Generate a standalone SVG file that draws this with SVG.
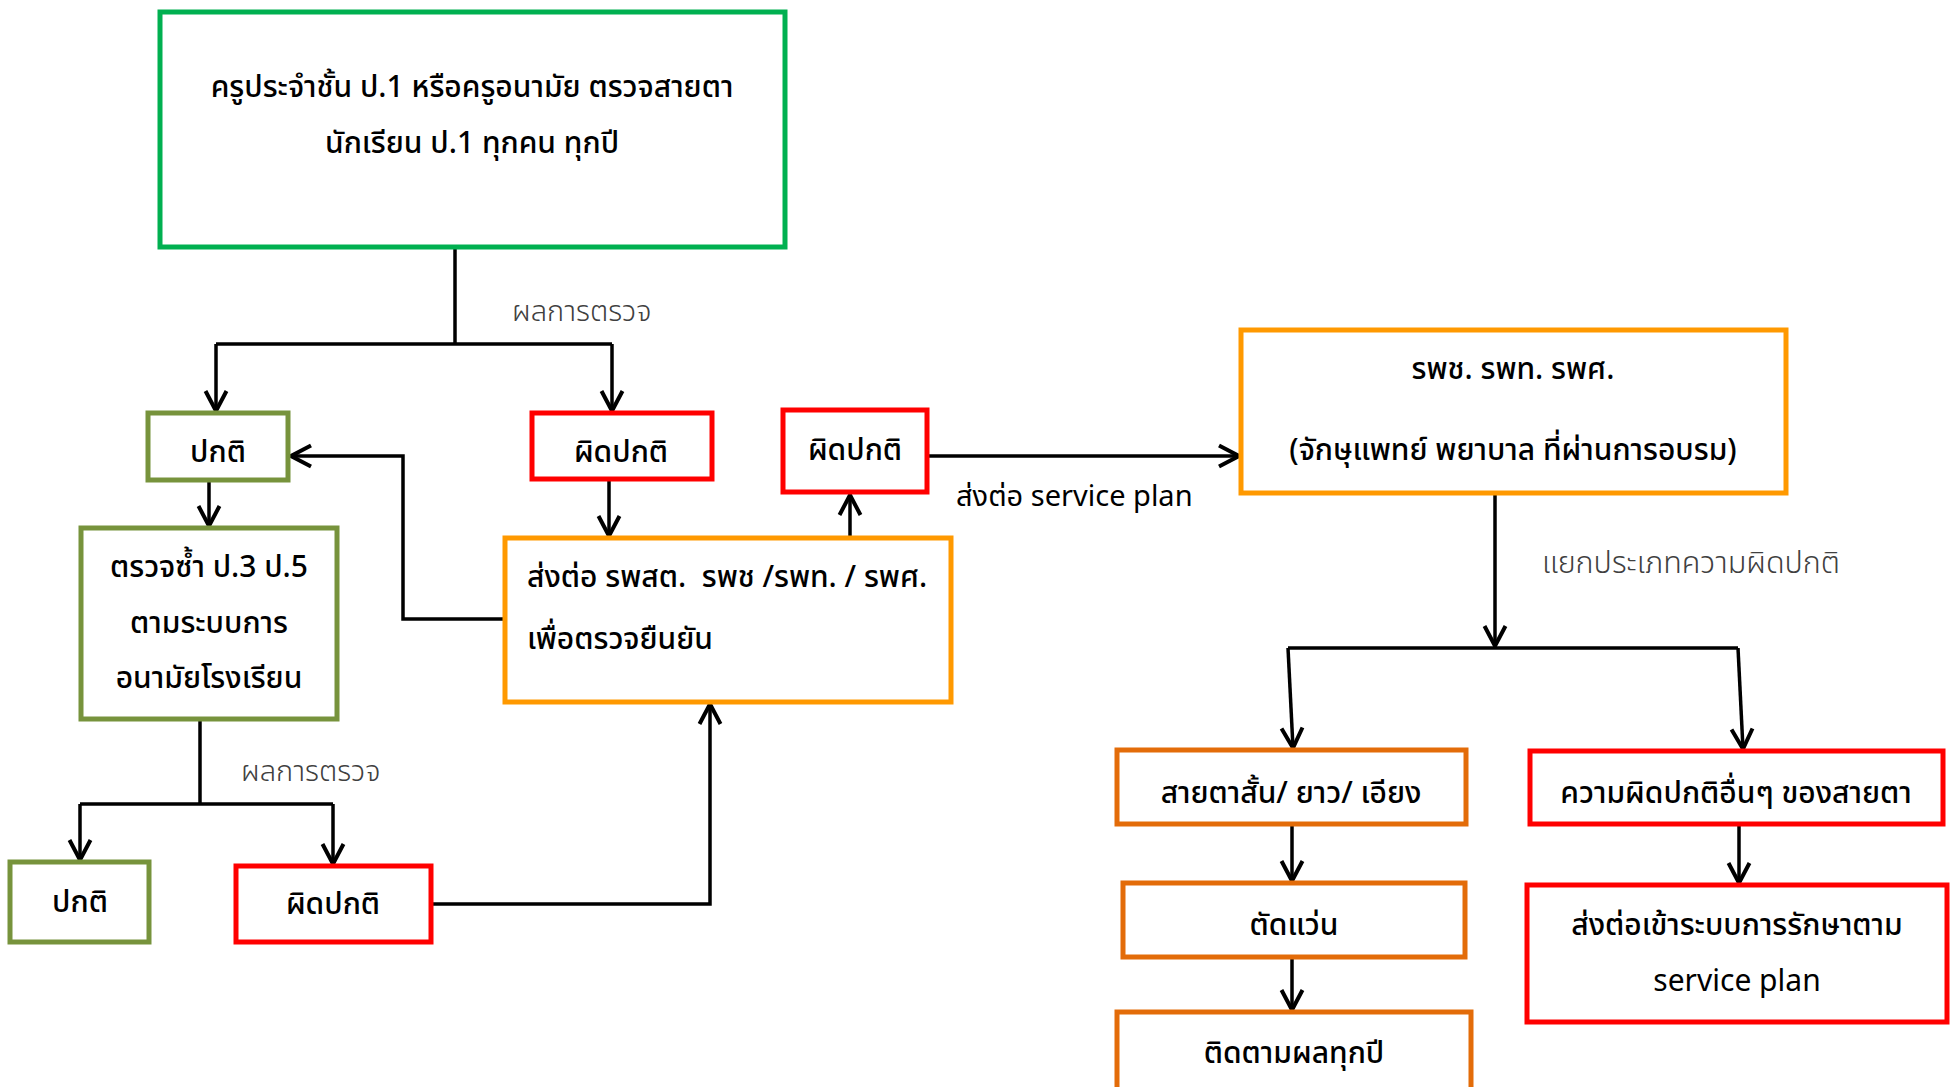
<svg xmlns="http://www.w3.org/2000/svg" width="1950" height="1087" viewBox="0 0 1950 1087">
<style>
.box{fill:#fff;stroke-width:5}
.g1{stroke:#00B050}
.g2{stroke:#77933C}
.rd{stroke:#FF0000}
.or{stroke:#FF9900}
.dk{stroke:#E36C09}
.t{font-family:"Noto Sans Thai","Noto Sans","DejaVu Sans",sans-serif;font-size:30px;font-weight:500;fill:#000;text-anchor:middle}
.tl{text-anchor:start}
.lbl{font-family:"Noto Sans Thai","Noto Sans","DejaVu Sans",sans-serif;font-size:29px;fill:#404040;font-weight:300}
.c{stroke:#000;stroke-width:3.5;fill:none}
</style>
<defs>
<marker id="ah" markerUnits="userSpaceOnUse" markerWidth="26" markerHeight="26" viewBox="0 0 26 26" refX="23" refY="13" orient="auto">
<path d="M3,2.5 L23,13 L3,23.5" fill="none" stroke="#000" stroke-width="4"/>
</marker>
</defs>
<rect width="1950" height="1087" fill="#fff"/>

<g id="connectors">
<path class="c" d="M455,247 V344"/>
<path class="c" d="M216,344 H612"/>
<path class="c" d="M216,344 V411" marker-end="url(#ah)"/>
<path class="c" d="M612,344 V411" marker-end="url(#ah)"/>
<path class="c" d="M609,480 V536" marker-end="url(#ah)"/>
<path class="c" d="M505,619 H403 V456 H291" marker-end="url(#ah)"/>
<path class="c" d="M850,538 V495" marker-end="url(#ah)"/>
<path class="c" d="M927,456 H1239" marker-end="url(#ah)"/>
<path class="c" d="M209,480 V526" marker-end="url(#ah)"/>
<path class="c" d="M200,719 V804"/>
<path class="c" d="M80,804 H333"/>
<path class="c" d="M80,804 V860" marker-end="url(#ah)"/>
<path class="c" d="M333,804 V864" marker-end="url(#ah)"/>
<path class="c" d="M431,904 H710 V704" marker-end="url(#ah)"/>
<path class="c" d="M1495,493 V646" marker-end="url(#ah)"/>
<path class="c" d="M1288,648 H1738"/>
<path class="c" d="M1288,648 L1293,748" marker-end="url(#ah)"/>
<path class="c" d="M1738,648 L1743,749" marker-end="url(#ah)"/>
<path class="c" d="M1292,824 V881" marker-end="url(#ah)"/>
<path class="c" d="M1292,957 V1010" marker-end="url(#ah)"/>
<path class="c" d="M1739,824 V883" marker-end="url(#ah)"/>
<text class="lbl" x="512" y="321">ผลการตรวจ</text>
<text class="lbl" x="241" y="781">ผลการตรวจ</text>
<text class="lbl" x="1542" y="573" style="font-size:30.5px">แยกประเภทความผิดปกติ</text>
<text class="t tl" x="956" y="506" style="font-size:29px;font-weight:400">ส่งต่อ service plan</text>
</g>

<g id="n-top">
<rect class="box g1" x="160" y="12" width="625" height="235"/>
<text class="t" x="472" y="97">ครูประจำชั้น ป.1 หรือครูอนามัย ตรวจสายตา</text>
<text class="t" x="472" y="153">นักเรียน ป.1 ทุกคน ทุกปี</text>
</g>
<g id="n-normal1">
<rect class="box g2" x="148" y="413" width="140" height="67"/>
<text class="t" x="218" y="462">ปกติ</text>
</g>
<g id="n-abn1">
<rect class="box rd" x="532" y="413" width="180" height="66"/>
<text class="t" x="621" y="462">ผิดปกติ</text>
</g>
<g id="n-abn2">
<rect class="box rd" x="783" y="410" width="144" height="82"/>
<text class="t" x="855" y="460">ผิดปกติ</text>
</g>
<g id="n-refer">
<rect class="box or" x="505" y="538" width="446" height="164"/>
<text class="t tl" x="527" y="587" xml:space="preserve">ส่งต่อ รพสต.  รพช /รพท. / รพศ.</text>
<text class="t tl" x="527" y="649">เพื่อตรวจยืนยัน</text>
</g>
<g id="n-recheck">
<rect class="box g2" x="81" y="528" width="256" height="191"/>
<text class="t" x="209" y="577">ตรวจซ้ำ ป.3 ป.5</text>
<text class="t" x="209" y="633">ตามระบบการ</text>
<text class="t" x="209" y="688">อนามัยโรงเรียน</text>
</g>
<g id="n-normal2">
<rect class="box g2" x="10" y="862" width="139" height="80"/>
<text class="t" x="80" y="912">ปกติ</text>
</g>
<g id="n-abn3">
<rect class="box rd" x="236" y="866" width="195" height="76"/>
<text class="t" x="333" y="914">ผิดปกติ</text>
</g>
<g id="n-hosp">
<rect class="box or" x="1241" y="330" width="545" height="163"/>
<text class="t" x="1513" y="379">รพช. รพท. รพศ.</text>
<text class="t" x="1513" y="460">(จักษุแพทย์ พยาบาล ที่ผ่านการอบรม)</text>
</g>
<g id="n-refr">
<rect class="box dk" x="1117" y="750" width="349" height="74"/>
<text class="t" x="1291" y="803">สายตาสั้น/ ยาว/ เอียง</text>
</g>
<g id="n-other">
<rect class="box rd" x="1530" y="751" width="413" height="73"/>
<text class="t" x="1736" y="803">ความผิดปกติอื่นๆ ของสายตา</text>
</g>
<g id="n-glasses">
<rect class="box dk" x="1123" y="883" width="342" height="74"/>
<text class="t" x="1294" y="935">ตัดแว่น</text>
</g>
<g id="n-follow">
<rect class="box dk" x="1117" y="1012" width="354" height="78"/>
<text class="t" x="1294" y="1063">ติดตามผลทุกปี</text>
</g>
<g id="n-sp">
<rect class="box rd" x="1527" y="885" width="420" height="137"/>
<text class="t" x="1737" y="935">ส่งต่อเข้าระบบการรักษาตาม</text>
<text class="t" x="1737" y="991" style="font-weight:400">service plan</text>
</g>
</svg>
